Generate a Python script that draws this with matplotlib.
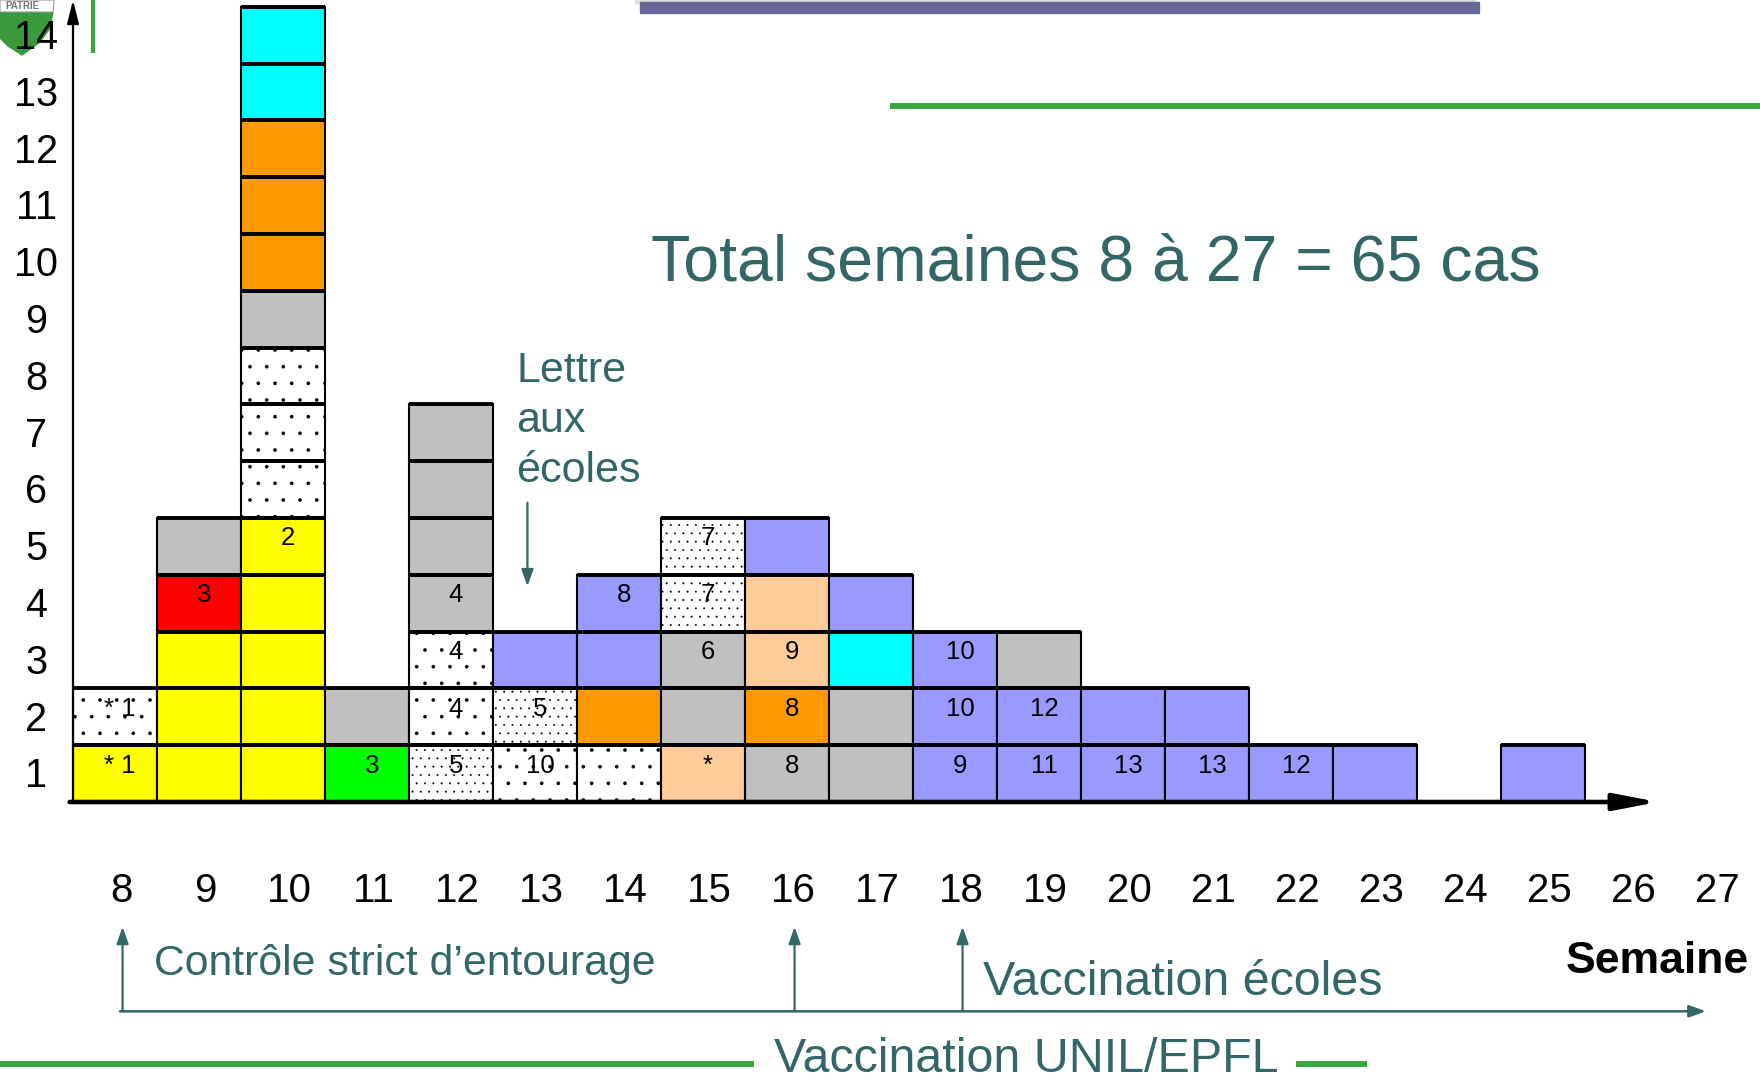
"""Weekly cases, semaines 8 a 27, stacked one box per case."""

import matplotlib.pyplot as plt
import matplotlib.patches as mpatches
import matplotlib.transforms as mtransforms

plt.rcParams['font.family'] = ['Liberation Sans', 'DejaVu Sans']
plt.rcParams['hatch.linewidth'] = 0.2

# x axis weeks and y axis counts
WEEKS = list(range(8, 28))
COUNTS = list(range(1, 15))

# cases per week, one letter per case from the bottom up
CASE_WEEKS = [8, 9, 10, 11, 12, 13, 14, 15, 16, 17, 18, 19, 20, 21, 22, 23, 25]
CASE_TYPES = ['yd', 'yyyrg', 'yyyyydddgooocc', 'vg', 'Dddgggg', 'dDp', 'dopp',
              'kggDD', 'gokkp', 'ggcp', 'ppp', 'ppg', 'pp', 'pp', 'p', 'p', 'p']
CASE_LABELS = [['* 1', '* 1'],
               ['', '', '', '3', ''],
               ['', '', '', '', '2', '', '', '', '', '', '', '', '', ''],
               ['3', ''],
               ['5', '4', '4', '4', '', '', ''],
               ['10', '5', ''],
               ['', '', '', '8'],
               ['*', '', '6', '7', '7'],
               ['8', '8', '9', '', ''],
               ['', '', '', ''],
               ['9', '10', '10'],
               ['11', '12', ''],
               ['13', ''],
               ['13', ''],
               ['12'],
               [''],
               ['']]

# annotation texts
TITLE = 'Total semaines 8 à 27 = 65 cas'
LETTRE_LINES = ['Lettre', 'aux', 'écoles']
MEASURE_WEEKS = [8, 16, 18]
MEASURE_TEXTS = ['Contrôle strict d’entourage', 'Vaccination UNIL/EPFL',
                 'Vaccination écoles']

# styles
STYLES = {'y': ('#ffff00', None), 'r': ('#ff0000', None),
          'g': ('#c0c0c0', None), 'c': ('#00ffff', None),
          'o': ('#ff9900', None), 'v': ('#00ff00', None),
          'p': ('#9999ff', None), 'k': ('#ffcc99', None),
          'd': ('white', '.'), 'D': ('white', '..')}
TEAL = '#336666'
GREEN = '#3aa63e'
SLATE = '#666699'

# layout in pixels
W, H = 1760, 1079
X0_PX, BASE_PX = 73, 802
COL_PX, ROW_PX = 84, 56.8


def teal_arrow(ax, start, end, lw=1.6):
    """Draw a thin teal arrow between two data points."""
    ax.annotate('', xy=end, xytext=start, annotation_clip=False,
                arrowprops=dict(arrowstyle='-|>,head_length=1.0,head_width=0.36',
                                color=TEAL, lw=lw, mutation_scale=10,
                                shrinkA=0, shrinkB=0))


def main():
    fig = plt.figure(figsize=(W / 100, H / 100), dpi=100)
    ax = fig.add_axes([0, 0, 1, 1])
    ax.set_xlim(7.5 - X0_PX / COL_PX, 7.5 + (W - X0_PX) / COL_PX)
    ax.set_ylim(-(H - BASE_PX) / ROW_PX, BASE_PX / ROW_PX)
    ax.axis('off')
    ytop = ax.get_ylim()[1]

    # one box per case
    for week, types, labels in zip(CASE_WEEKS, CASE_TYPES, CASE_LABELS):
        for row, (code, label) in enumerate(zip(types, labels)):
            color, hatch = STYLES[code]
            ax.bar(week, 1, bottom=row, width=1, color=color, hatch=hatch,
                   edgecolor='black', lw=1.5, zorder=2)
            ax.hlines([row, row + 1], week - 0.5, week + 0.5, color='black',
                      lw=2.8, zorder=3)
            if label:
                ax.text(week + 0.06, row + 0.64, label, ha='center',
                        va='center', fontsize=18.5, zorder=4)

    # axes with arrows
    ax.annotate('', xy=(7.5, ytop), xytext=(7.5, 0), annotation_clip=False,
                arrowprops=dict(arrowstyle='-|>,head_length=1.4,head_width=0.35',
                                color='black', lw=1.6, mutation_scale=10,
                                shrinkA=0, shrinkB=0), zorder=5)
    ax.annotate('', xy=(26.37, 0), xytext=(7.46, 0), annotation_clip=False,
                arrowprops=dict(arrowstyle='-|>,head_length=2.6,head_width=0.5',
                                color='black', lw=3.3, mutation_scale=10,
                                shrinkA=0, shrinkB=0), zorder=5)

    # tick labels
    for week in WEEKS:
        ax.text(week + 0.08, -1.56, str(week), ha='center', va='center',
                fontsize=29)
    for count in COUNTS:
        ax.text(7.06, count - 0.55, str(count), ha='center', va='center',
                fontsize=28.5, zorder=6)
    ax.text(26.36, -2.80, 'Semaine', ha='center', va='center',
            fontsize=32, fontweight='bold')

    # annotations
    ax.text(19.68, 9.48, TITLE, ha='center', va='center', fontsize=46.4,
            color=TEAL)
    for i, line in enumerate(LETTRE_LINES):
        ax.text(12.78, 7.40 - 0.88 * i, line, ha='left', va='baseline',
                fontsize=31, color=TEAL)
    teal_arrow(ax, (12.91, 5.27), (12.91, 3.80))

    base_y = -3.685
    teal_arrow(ax, (8.06, base_y), (26.94, base_y), lw=1.8)
    for week in MEASURE_WEEKS:
        teal_arrow(ax, (week + 0.09, base_y), (week + 0.09, -2.20))
    ax.text(8.46, -2.85, MEASURE_TEXTS[0], ha='left', va='center',
            fontsize=30.8, color=TEAL)
    ax.text(15.85, -4.54, MEASURE_TEXTS[1], ha='left', va='center',
            fontsize=34.8, color=TEAL)
    ax.text(18.33, -3.17, MEASURE_TEXTS[2], ha='left', va='center',
            fontsize=34.8, color=TEAL)

    # slide decorations, in pixels from the top left corner
    px = mtransforms.Affine2D().scale(1 / W, -1 / H).translate(0, 1) \
        + fig.transFigure
    deco = dict(transform=px, zorder=-1, solid_capstyle='butt')
    fig.add_artist(plt.Line2D([93, 93], [0, 53], color=GREEN, lw=3, **deco))
    fig.add_artist(plt.Line2D([890, W], [106, 106], color=GREEN, lw=4.3, **deco))
    fig.add_artist(plt.Line2D([0, 754], [1064, 1064], color=GREEN, lw=4.3, **deco))
    fig.add_artist(plt.Line2D([1296, 1367], [1064, 1064], color=GREEN, lw=4.3,
                              **deco))
    fig.add_artist(mpatches.Rectangle((635, 0), 840, 3, color='#dddddd',
                                      transform=px, zorder=-1))
    fig.add_artist(mpatches.Rectangle((640, 2), 839, 11, color=SLATE,
                                      transform=px, zorder=-1))
    fig.add_artist(mpatches.Polygon([(0, 12), (53, 12), (50, 28), (40, 42),
                                     (22, 55), (8, 46), (0, 38)],
                                    color='#3a9a3a', transform=px, zorder=-1))
    fig.add_artist(mpatches.Polygon([(0, 0), (54, 0), (53, 12), (0, 12)],
                                    facecolor='white', edgecolor='#999999',
                                    lw=0.8, transform=px, zorder=-1))
    fig.text(22 / W, 1 - 6 / H, 'PATRIE', ha='center', va='center',
             fontsize=7, fontweight='bold', color='#777777', zorder=-1)

    fig.savefig('out.png', dpi=100)


if __name__ == '__main__':
    main()
